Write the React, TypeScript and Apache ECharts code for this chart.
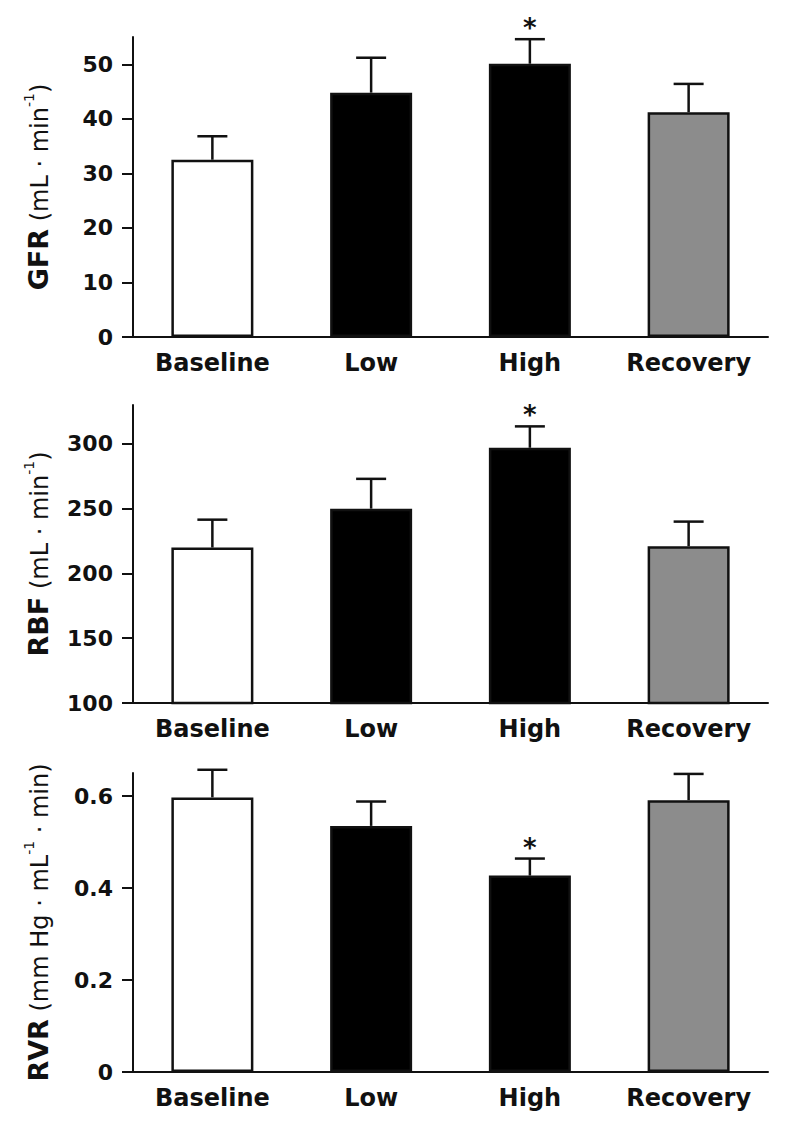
import React, { useEffect, useRef } from "react";
import * as echarts from "echarts";

const categories = ["Baseline", "Low", "High", "Recovery"];

const gfrMean = [32.5, 44.8, 50.1, 41.2];
const gfrSem = [4.3, 6.4, 4.5, 5.2];
const gfrSig = ["", "", "*", ""];
const gfrTicks = [0, 10, 20, 30, 40, 50];

const rbfMean = [220, 250, 297, 221];
const rbfSem = [21.5, 23, 16.5, 19];
const rbfSig = ["", "", "*", ""];
const rbfTicks = [100, 150, 200, 250, 300];

const rvrMean = [0.597, 0.535, 0.427, 0.591];
const rvrSem = [0.06, 0.053, 0.037, 0.057];
const rvrSig = ["", "", "*", ""];
const rvrTicks = [0, 0.2, 0.4, 0.6];

const barColors = ["#ffffff", "#000000", "#000000", "#8c8c8c"];

const FONT = "DejaVu Sans";
const INK = "#111111";

const panels = [
  {
    mean: gfrMean, sem: gfrSem, sig: gfrSig, ticks: gfrTicks, min: 0, max: 55,
    name: "{a|GFR}{b| (mL · min}{s|-1}{b|)}",
    grid: { top: 37, bottom: 1138 - 337 },
  },
  {
    mean: rbfMean, sem: rbfSem, sig: rbfSig, ticks: rbfTicks, min: 100, max: 330,
    name: "{a|RBF}{b| (mL · min}{s|-1}{b|)}",
    grid: { top: 405, bottom: 1138 - 703 },
  },
  {
    mean: rvrMean, sem: rvrSem, sig: rvrSig, ticks: rvrTicks, min: 0, max: 0.65,
    name: "{a|RVR}{b| (mm Hg · mL}{s|-1}{b| · min)}",
    grid: { top: 773, bottom: 1138 - 1072 },
  },
];

export default function App() {
  const ref = useRef<HTMLDivElement>(null);
  useEffect(() => {
    if (!ref.current) return;
    const chart = echarts.init(ref.current, undefined, { renderer: "svg" });
    const grids: any[] = [];
    const xAxes: any[] = [];
    const yAxes: any[] = [];
    const series: any[] = [];
    panels.forEach((p, k) => {
      grids.push({ left: 133, right: 21, top: p.grid.top, bottom: p.grid.bottom, containLabel: false });
      xAxes.push({
        type: "category",
        gridIndex: k,
        data: categories,
        axisLine: { lineStyle: { color: INK, width: 2 } },
        axisTick: { show: false },
        axisLabel: { interval: 0, color: INK, fontFamily: FONT, fontWeight: "bold", fontSize: 24, margin: 14 },
      });
      yAxes.push({
        type: "value",
        gridIndex: k,
        min: p.min,
        max: p.max,
        splitLine: { show: false },
        axisLine: { show: true, lineStyle: { color: INK, width: 2 } },
        axisTick: { show: true, length: 11, lineStyle: { color: INK, width: 2 }, customValues: p.ticks },
        axisLabel: { color: INK, fontFamily: FONT, fontWeight: "bold", fontSize: 22, margin: 20, customValues: p.ticks },
        name: p.name,
        nameLocation: "middle",
        nameRotate: 90,
        nameGap: 81,
        nameTextStyle: {
          color: INK,
          fontFamily: FONT,
          fontSize: 24,
          rich: {
            a: { fontFamily: FONT, fontWeight: "bold", fontSize: 27, color: INK, verticalAlign: "bottom", lineHeight: 30 },
            b: { fontFamily: FONT, fontWeight: "normal", fontSize: 24, color: INK, verticalAlign: "bottom", lineHeight: 30 },
            s: { fontFamily: FONT, fontWeight: "normal", fontSize: 14, color: INK, verticalAlign: "top", lineHeight: 14 },
          },
        },
      });
      series.push({
        type: "bar",
        xAxisIndex: k,
        yAxisIndex: k,
        barWidth: 82,
        data: p.mean.map((v, i) => ({
          value: v,
          itemStyle: { color: barColors[i], borderColor: INK, borderWidth: 2.5 },
        })),
        z: 2,
      });
      const sig = p.sig;
      series.push({
        type: "custom",
        xAxisIndex: k,
        yAxisIndex: k,
        z: 3,
        encode: { x: 0, y: 1 },
        data: p.mean.map((v, i) => [i, v, p.sem[i]]),
        renderItem: (params: any, api: any) => {
          const i = api.value(0);
          const m = api.value(1);
          const e = api.value(2);
          const base = api.coord([i, m]);
          const top = api.coord([i, m + e]);
          const half = 15;
          const children: any[] = [
            { type: "line", shape: { x1: base[0], y1: base[1], x2: top[0], y2: top[1] }, style: { stroke: INK, lineWidth: 2.5 } },
            { type: "line", shape: { x1: top[0] - half, y1: top[1], x2: top[0] + half, y2: top[1] }, style: { stroke: INK, lineWidth: 2.5 } },
          ];
          if (sig[i]) {
            children.push({
              type: "text",
              x: top[0],
              y: top[1] + 2,
              style: { text: sig[i], fontFamily: FONT, fontWeight: "bold", fontSize: 26, fill: INK, align: "center", verticalAlign: "bottom" },
            });
          }
          return { type: "group", children };
        },
      });
    });
    chart.setOption({
      animation: false,
      backgroundColor: "#ffffff",
      grid: grids,
      xAxis: xAxes,
      yAxis: yAxes,
      series,
    });
    return () => chart.dispose();
  }, []);
  return <div ref={ref} style={{ position: "absolute", left: 0, top: 0, width: 789, height: 1138 }} />;
}
